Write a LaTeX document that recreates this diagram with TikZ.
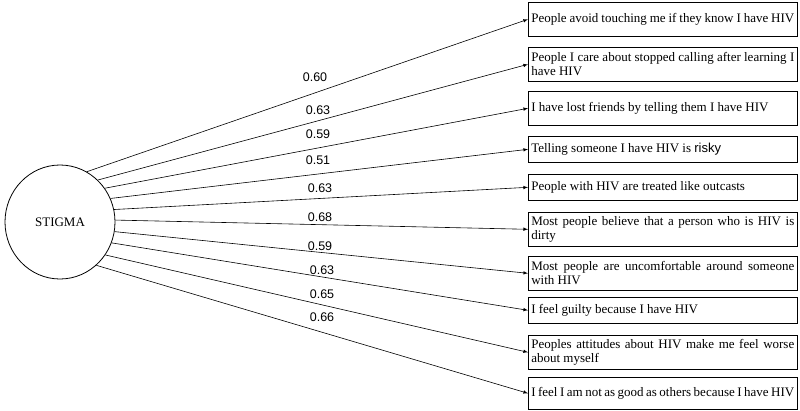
\documentclass[tikz,border=0pt]{standalone}
\usepackage{fontspec}
\usetikzlibrary{shapes.geometric}
\setmainfont{Liberation Serif}
\newfontfamily\lab{Liberation Sans}
\begin{document}
\begin{tikzpicture}[x=1pt,y=-1pt,
  item/.style={draw,line width=0.6pt,anchor=north west,minimum width=269pt,text width=263pt,align=justify,inner xsep=3pt,inner ysep=2pt,font=\fontsize{13}{14}\selectfont},
  conn/.style={->,>=latex,line width=0.6pt},
  wt/.style={font=\lab\fontsize{12.5}{13}\selectfont}]
\useasboundingbox (0,0) rectangle (800,410);
\node[draw,line width=0.8pt,ellipse,minimum width=110pt,minimum height=114pt,font=\fontsize{13}{14}\selectfont] (s) at (60,222) {STIGMA};
\node[item,minimum height=34pt] (b1) at (528,2) {People avoid touching me if they know I have HIV};
\node[item,minimum height=34pt] (b2) at (528,47) {People I care about stopped calling after learning I have HIV};
\node[item,minimum height=34pt] (b3) at (528,91) {I have lost friends by telling them I have HIV};
\node[item,minimum height=26pt] (b4) at (528,136) {Telling someone I have HIV is {\lab risky}};
\node[item,minimum height=26pt] (b5) at (528,174) {People with HIV are treated like outcasts};
\node[item,minimum height=34pt] (b6) at (528,212) {Most people believe that a person who is HIV is dirty};
\node[item,minimum height=34pt] (b7) at (528,256) {Most people are uncomfortable around someone with HIV};
\node[item,minimum height=26pt] (b8) at (528,297) {I feel guilty because I have HIV};
\node[item,minimum height=34pt] (b9) at (528,335) {Peoples attitudes about HIV make me feel worse about myself};
\node[item,minimum height=32pt] (b10) at (528,377) {I feel I am not as good as others because I have HIV};
\foreach \i/\a in {1/62,2/48,3/37,4/25,5/13,6/2,7/-10,8/-22,9/-36,10/-50}
  \draw[conn] (s.\a) -- (b\i.west);
\node[wt] (w1) at (315,77) {0.60};
\node[wt] (w2) at (318,110) {0.63};
\node[wt] (w3) at (318,134) {0.59};
\node[wt] (w4) at (318,160) {0.51};
\node[wt] (w5) at (320,188) {0.63};
\node[wt] (w6) at (320,217) {0.68};
\node[wt] (w7) at (320,246) {0.59};
\node[wt] (w8) at (322,270) {0.63};
\node[wt] (w9) at (322,294) {0.65};
\node[wt] (w10) at (322,317) {0.66};
\end{tikzpicture}
\end{document}
